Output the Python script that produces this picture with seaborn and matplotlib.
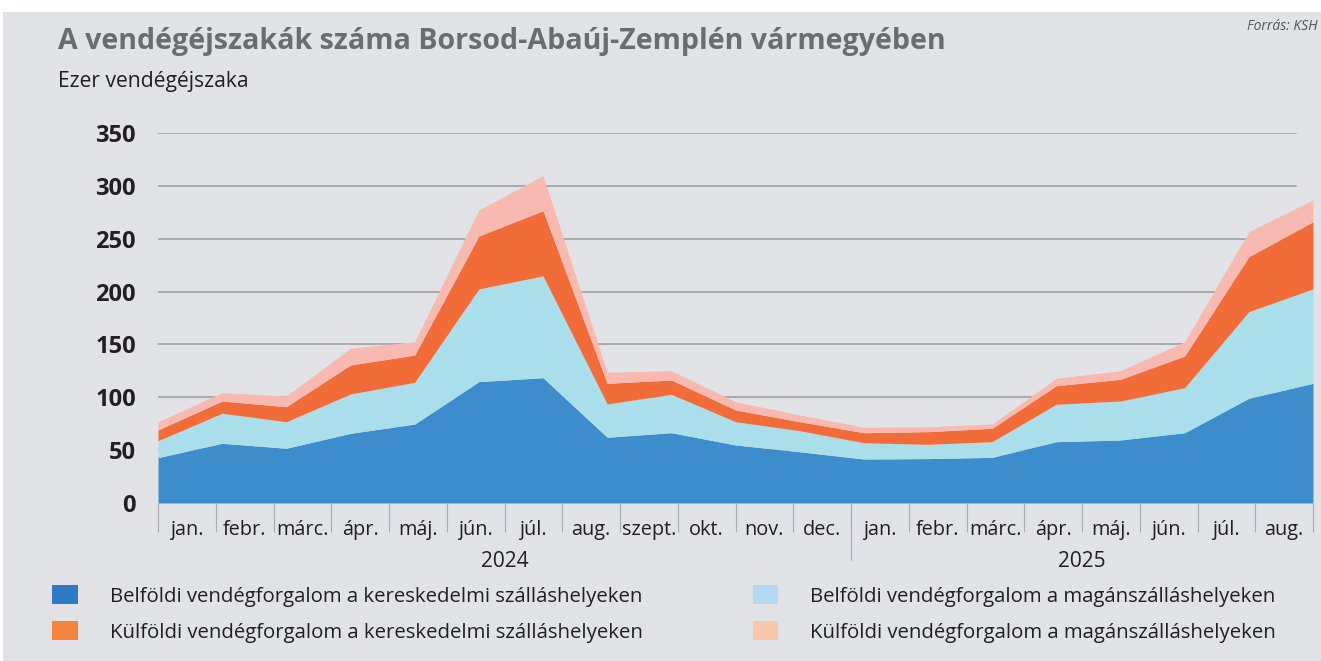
import numpy as np
import pandas as pd
import matplotlib
matplotlib.use("Agg")
import matplotlib.pyplot as plt
import seaborn as sns
from matplotlib.patches import Patch, Rectangle
from matplotlib.lines import Line2D

# havi adatok (ezer vendégéjszaka), 2024 jan. - 2025 júl.
belfoldi_keresk = [42.9, 56.5, 51.8, 65.9, 74.7, 114.8, 118.5, 62.2, 66.5, 54.9,
                   48.5, 41.6, 42.0, 43.2, 58.0, 59.6, 66.5, 99.1, 113.2]
belfoldi_magan = [16.0, 28.4, 25.1, 37.2, 39.5, 87.7, 96.3, 31.5, 36.3, 22.0,
                  19.9, 15.4, 13.5, 14.8, 35.4, 36.9, 42.6, 81.9, 89.3]
kulfoldi_keresk = [10.2, 11.6, 14.2, 27.5, 25.8, 50.1, 61.7, 19.5, 13.6, 11.1,
                   8.5, 9.5, 12.0, 12.7, 17.6, 20.5, 30.0, 52.0, 63.6]
kulfoldi_magan = [7.8, 7.9, 10.1, 15.8, 12.6, 24.6, 33.2, 10.5, 8.8, 7.8,
                  6.4, 5.1, 4.5, 4.0, 7.0, 8.2, 13.5, 23.7, 20.6]

honapok = ["jan.", "febr.", "márc.", "ápr.", "máj.", "jún.", "júl.", "aug.",
           "szept.", "okt.", "nov.", "dec.",
           "jan.", "febr.", "márc.", "ápr.", "máj.", "jún.", "júl.", "aug."]
evek = ["2024", "2025"]
ev_honapok = [12, 8]

sorozatok = ["Belföldi vendégforgalom a kereskedelmi szálláshelyeken",
             "Belföldi vendégforgalom a magánszálláshelyeken",
             "Külföldi vendégforgalom a kereskedelmi szálláshelyeken",
             "Külföldi vendégforgalom a magánszálláshelyeken"]

area_colors = ["#3d8dcc", "#a9deea", "#f26c3a", "#f8b9b0"]
legend_colors = ["#2e7bc4", "#b4d8ef", "#f5843f", "#f9c6ac"]
BG = "#e1e2e6"

df = pd.DataFrame({
    sorozatok[0]: belfoldi_keresk,
    sorozatok[1]: belfoldi_magan,
    sorozatok[2]: kulfoldi_keresk,
    sorozatok[3]: kulfoldi_magan,
})

sns.set_theme(style="white")
plt.rcParams["font.family"] = ["Open Sans", "DejaVu Sans"]

W, H = 1321, 661
fig = plt.figure(figsize=(W / 100, H / 100), dpi=100, facecolor="white")
fig.patches.append(Rectangle((3 / W, 0), 1, 1 - 12 / H, transform=fig.transFigure,
                             facecolor=BG, edgecolor="none", zorder=-10))

ax_left, ax_right = 158 / W, 1313 / W
ax_bottom, ax_top = 1 - 503 / H, 1 - 133 / H
ax = fig.add_axes([ax_left, ax_bottom, ax_right - ax_left, ax_top - ax_bottom])
ax.set_facecolor(BG)

x = np.arange(len(df))
ax.stackplot(x, *[df[c] for c in df.columns], colors=area_colors, linewidth=0, zorder=3)
ax.set_xlim(0, len(df) - 1)
ax.set_ylim(0, 350)

for v in range(50, 351, 50):
    ax.axhline(v, xmin=0, xmax=0.985, color="#a8aab0", linewidth=1.4, zorder=1)

ax.set_yticks(range(0, 351, 50))
ax.tick_params(axis="y", length=0, pad=16, labelsize=17, labelcolor="#231f20")
for lbl in ax.get_yticklabels():
    lbl.set_fontweight("bold")
ax.set_xticks([])
for s in ax.spines.values():
    s.set_visible(False)

# hónap tengely
ax2 = ax.twiny()
ax2.set_xlim(0, len(honapok))
ax2.xaxis.set_ticks_position("bottom")
ax2.xaxis.set_label_position("bottom")
ax2.set_xticks(np.arange(len(honapok)) + 0.5)
ax2.set_xticklabels(honapok)
ax2.set_xticks(np.arange(len(honapok) + 1), minor=True)
ax2.tick_params(axis="x", which="major", length=0, pad=12, labelsize=14.3,
                labelcolor="#231f20")
ax2.tick_params(axis="x", which="minor", length=21, width=0.8, color="#a8aab0",
                direction="out")
for s in ax2.spines.values():
    s.set_visible(False)

start = 0
for ev, n in zip(evek, ev_honapok):
    mid = start + (12 if n == 12 else n) / 2
    ax2.text(mid, -0.159, ev, transform=ax2.get_xaxis_transform(),
             ha="center", va="center", fontsize=15, color="#231f20")
    start += n
ax2.add_line(Line2D([12, 12], [0, -0.154], transform=ax2.get_xaxis_transform(),
                    color="#a8aab0", linewidth=0.8, clip_on=False))

# címek
fig.text(58 / W, 1 - 41 / H, "A vendégéjszakák száma Borsod-Abaúj-Zemplén vármegyében",
         fontsize=20.6, fontweight="bold", color="#6b6c70", ha="left", va="center")
fig.text(58 / W, 1 - 82 / H, "Ezer vendégéjszaka", fontsize=15.2, color="#231f20",
         ha="left", va="center")
fig.text(1318 / W, 1 - 27 / H, "Forrás: KSH", fontsize=10, style="italic",
         color="#555555", ha="right", va="center")

# jelmagyarázat
handles = [Patch(facecolor=c, edgecolor="none") for c in legend_colors]
order = [0, 2, 1, 3]
fig.legend([handles[i] for i in order], [sorozatok[i] for i in order],
           loc="upper left", bbox_to_anchor=(34 / W, 1 - 567 / H), ncol=2,
           frameon=False, fontsize=14.7, handlelength=1.25, handleheight=1.05,
           handletextpad=1.55, columnspacing=5.4, labelspacing=0.7,
           labelcolor="#231f20")

fig.savefig("out.png", dpi=100, facecolor="white")
